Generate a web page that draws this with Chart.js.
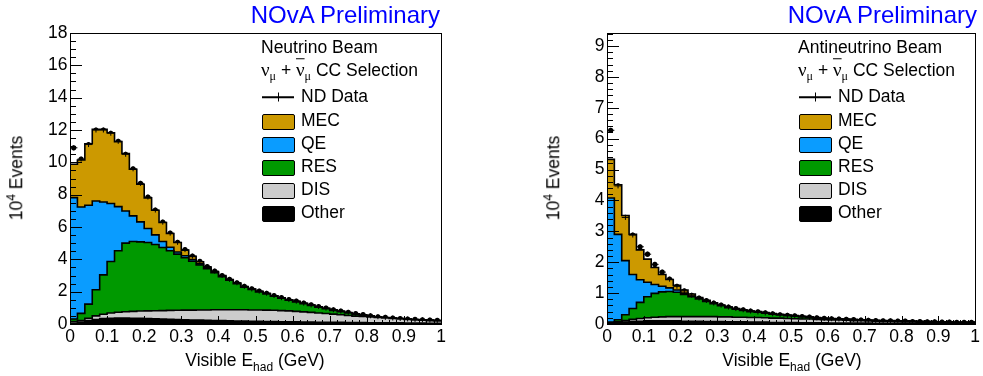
<!DOCTYPE html>
<html><head><meta charset="utf-8">
<script src="https://cdn.jsdelivr.net/npm/chart.js@4.4.0/dist/chart.umd.min.js"></script>
<style>
html,body{margin:0;padding:0;background:#fff;width:983px;height:376px;overflow:hidden;font-family:"Liberation Sans",Arial,Helvetica,sans-serif;}
#wrap{position:relative;width:983px;height:376px;}
canvas{position:absolute;top:0;}
.t{position:absolute;white-space:nowrap;color:#000;font-size:17.5px;line-height:1;transform:translateY(-50%);}
.g{font-family:"Liberation Serif","Times New Roman",serif;font-size:19px;}
.sb{font-family:"Liberation Serif","Times New Roman",serif;font-size:12px;position:relative;top:4px;}
.ov{text-decoration:overline;}
.sw{position:absolute;width:31px;height:14px;border:1px solid #000;border-radius:2px;box-sizing:content-box;}
.nova{position:absolute;white-space:nowrap;color:#0000ff;font-size:24px;line-height:1;transform:translate(-100%,-50%);}
.ytit{position:absolute;white-space:nowrap;font-size:17.5px;line-height:1;transform:translate(-50%,-50%) rotate(-90deg);}
.xtit{position:absolute;white-space:nowrap;font-size:17.5px;line-height:1;transform:translate(-50%,-50%);}
</style></head>
<body><div id="wrap">
<canvas id="c1" width="491" height="376" style="left:0px"></canvas>
<canvas id="c2" width="446" height="376" style="left:537px"></canvas>
</div>
<script>
// ---------------- data ----------------
const binWidth = 0.02;
const xTickLabels = [0, 0.1, 0.2, 0.3, 0.4, 0.5, 0.6, 0.7, 0.8, 0.9, 1];
const yTicksNu = [0, 2, 4, 6, 8, 10, 12, 14, 16, 18];
const yTicksAnu = [0, 1, 2, 3, 4, 5, 6, 7, 8, 9];
const categories = ['Other', 'DIS', 'RES', 'QE', 'MEC'];
const legendLabels = ['ND Data', 'MEC', 'QE', 'RES', 'DIS', 'Other'];

// Neutrino beam (left panel), 10^4 events per 0.02 GeV bin
const nuOther = [0.05,0.12,0.20,0.28,0.33,0.36,0.37,0.37,0.36,0.35,
  0.33,0.32,0.30,0.29,0.27,0.26,0.25,0.24,0.23,0.22,
  0.21,0.20,0.19,0.18,0.17,0.16,0.15,0.15,0.14,0.13,
  0.13,0.12,0.12,0.11,0.11,0.10,0.10,0.09,0.09,0.09,
  0.08,0.08,0.07,0.07,0.07,0.06,0.06,0.06,0.05,0.05];
const nuDIS = [0.10,0.10,0.15,0.22,0.27,0.32,0.36,0.39,0.42,0.45,
  0.48,0.50,0.53,0.55,0.58,0.60,0.61,0.63,0.64,0.66,
  0.67,0.68,0.69,0.70,0.70,0.71,0.71,0.70,0.69,0.68,
  0.65,0.63,0.60,0.57,0.54,0.51,0.47,0.44,0.40,0.37,
  0.35,0.32,0.30,0.27,0.24,0.22,0.19,0.17,0.16,0.14];
const nuRES = [0.16,0.44,0.88,1.62,2.44,3.19,3.80,4.24,4.32,4.28,
  4.23,4.10,3.90,3.69,3.47,3.24,3.02,2.78,2.55,2.30,
  2.05,1.83,1.62,1.40,1.26,1.12,1.00,0.87,0.76,0.66,
  0.59,0.50,0.42,0.36,0.29,0.23,0.19,0.15,0.11,0.08,
  0.05,0.02,0.01,0.01,0.01,0.01,0.01,0.01,0.01,0.01];
const nuQE = [7.51,6.58,6.12,5.49,4.51,3.58,2.73,1.99,1.59,1.24,
  0.87,0.59,0.37,0.22,0.13,0.12,0.10,0.07,0.05,0.03,
  0.03,0.02,0.02,0.02,0.02,0.02,0.02,0.02,0.02,0.02,
  0.02,0.02,0.02,0.02,0.02,0.02,0.02,0.02,0.02,0.02,
  0.01,0.01,0.01,0.01,0.01,0.01,0.01,0.01,0.01,0.01];
const nuMEC = [2.06,2.90,3.80,4.43,4.49,4.38,4.02,3.55,2.88,2.32,
  1.89,1.53,1.18,0.85,0.59,0.35,0.20,0.13,0.07,0.04,
  0.03,0.02,0.02,0.01,0.01,0.01,0.01,0.01,0.01,0.01,
  0.01,0.01,0.01,0.01,0.01,0.01,0.01,0.01,0.01,0.01,
  0.01,0.01,0.01,0.01,0.01,0.01,0.01,0.01,0.01,0.01];
const nuData = [10.90,10.20,11.10,12.00,12.00,11.80,11.30,10.50,9.60,8.70,
  7.85,7.05,6.30,5.62,5.05,4.60,4.20,3.87,3.55,3.27,
  3.00,2.76,2.55,2.33,2.17,2.03,1.90,1.76,1.63,1.51,
  1.41,1.29,1.18,1.08,0.98,0.88,0.80,0.72,0.64,0.58,
  0.51,0.45,0.41,0.37,0.34,0.31,0.28,0.26,0.24,0.22];

// Antineutrino beam (right panel)
const anuOther = [0.02,0.04,0.06,0.08,0.09,0.10,0.10,0.10,0.10,0.10,
  0.09,0.09,0.09,0.08,0.08,0.08,0.07,0.07,0.07,0.06,
  0.06,0.06,0.05,0.05,0.05,0.05,0.04,0.04,0.04,0.04,
  0.03,0.03,0.03,0.03,0.03,0.03,0.02,0.02,0.02,0.02,
  0.02,0.02,0.02,0.02,0.02,0.01,0.01,0.01,0.01,0.01];
const anuDIS = [0.02,0.03,0.05,0.07,0.09,0.10,0.12,0.13,0.14,0.14,
  0.15,0.15,0.15,0.16,0.16,0.15,0.16,0.15,0.15,0.15,
  0.15,0.14,0.14,0.14,0.13,0.12,0.12,0.12,0.11,0.10,
  0.10,0.10,0.09,0.08,0.08,0.07,0.07,0.065,0.06,0.055,
  0.05,0.045,0.04,0.035,0.03,0.035,0.035,0.03,0.025,0.025];
const anuRES = [0.02,0.07,0.19,0.35,0.52,0.68,0.77,0.81,0.81,0.79,
  0.72,0.64,0.57,0.49,0.42,0.36,0.30,0.26,0.22,0.19,
  0.17,0.15,0.13,0.10,0.09,0.08,0.07,0.05,0.04,0.03,
  0.03,0.02,0.02,0.02,0.01,0.01,0.01,0.01,0.01,0.01,
  0.01,0.01,0.01,0.01,0.01,0.01,0.01,0.00,0.01,0.01];
const anuQE = [4.02,2.76,1.75,1.10,0.73,0.47,0.29,0.18,0.12,0.07,
  0.04,0.02,0.02,0.02,0.01,0.01,0.01,0.01,0.01,0.01,
  0.01,0.01,0.01,0.01,0.01,0.01,0.01,0.01,0.01,0.01,
  0.01,0.01,0.01,0.01,0.01,0.01,0.01,0.01,0.01,0.01,
  0.01,0.01,0.01,0.01,0.01,0.01,0.01,0.01,0.01,0.01];
const anuMEC = [1.25,1.61,1.46,1.30,0.97,0.75,0.55,0.38,0.27,0.15,
  0.10,0.07,0.03,0.02,0.02,0.01,0.01,0.01,0.01,0.01,
  0.01,0.01,0.01,0.01,0.01,0.01,0.01,0.01,0.01,0.01,
  0.01,0.01,0.01,0.01,0.01,0.01,0.01,0.01,0.01,0.01,
  0.01,0.01,0.01,0.01,0.01,0.01,0.01,0.01,0.01,0.01];
const anuData = [6.27,4.47,3.45,2.88,2.50,2.26,1.93,1.68,1.45,1.22,
  1.07,0.93,0.84,0.76,0.68,0.61,0.55,0.50,0.46,0.42,
  0.39,0.36,0.33,0.30,0.28,0.26,0.24,0.22,0.20,0.18,
  0.17,0.16,0.15,0.14,0.13,0.12,0.11,0.10,0.10,0.09,
  0.09,0.08,0.08,0.07,0.07,0.06,0.06,0.05,0.05,0.05];

// ---------------- styles ----------------
const fillColors = {Other:'#000000', DIS:'#cccccc', RES:'#009900', QE:'#0a9cff', MEC:'#cc9900'};
const FONT = '"Liberation Sans", Arial, Helvetica, sans-serif';
Chart.defaults.font.family = FONT;

function stepPoints(vals){
  const pts = vals.map((v,i)=>({x: i*binWidth, y: v}));
  pts.push({x: vals.length*binWidth, y: vals[vals.length-1]});
  return pts;
}
function centerPoints(vals){ return vals.map((v,i)=>({x:(i+0.5)*binWidth, y:v})); }

const axisDeco = {
  id:'axisDeco',
  afterDatasetsDraw(chart, args, o){
    const {ctx, chartArea:a} = chart;
    const xs = chart.scales.x, ys = chart.scales.y;
    ctx.save();
    ctx.strokeStyle = '#000'; ctx.lineWidth = 1;
    // horizontal data error bars
    const meta = chart.getDatasetMeta(5);
    const hw = xs.getPixelForValue(binWidth/2) - xs.getPixelForValue(0);
    ctx.beginPath();
    meta.data.forEach(p=>{ ctx.moveTo(p.x-hw, p.y); ctx.lineTo(p.x+hw, p.y); ctx.moveTo(p.x, p.y-2.5); ctx.lineTo(p.x, p.y+2.5); });
    ctx.stroke();
    // inward ticks
    ctx.beginPath();
    for (let k=0;;k++){
      const v = k*o.yMinor; if (v > ys.max + 1e-9) break;
      const major = Math.abs(v/o.yMajor - Math.round(v/o.yMajor)) < 1e-6;
      const p = Math.round(ys.getPixelForValue(v))+0.5;
      ctx.moveTo(a.left, p); ctx.lineTo(a.left + (major?12:6), p);
    }
    for (let k=0;;k++){
      const v = k*o.xMinor; if (v > 1+1e-9) break;
      const major = Math.abs(v/o.xMajor - Math.round(v/o.xMajor)) < 1e-6;
      const p = Math.round(xs.getPixelForValue(v))+0.5;
      ctx.moveTo(p, a.bottom); ctx.lineTo(p, a.bottom - (major?8:4));
    }
    ctx.stroke();
    ctx.strokeRect(Math.round(a.left)+0.5, Math.round(a.top)+0.5, Math.round(a.right-a.left), Math.round(a.bottom-a.top));
    ctx.restore();
  }
};

function makeChart(canvasId, comps, data, yMax, yTicks, yMajor, yMinor, rightPad){
  const datasets = categories.map((name,i)=>({
    label: name,
    data: stepPoints(comps[i]),
    stepped: true,
    backgroundColor: fillColors[name],
    borderColor: '#000',
    borderWidth: 1.6,
    pointRadius: 0,
    fill: i===0 ? 'origin' : '-1',
    stack: 'mc'
  }));
  datasets.push({
    label: 'ND Data', data: centerPoints(data), showLine:false, stack:'data', fill:false,
    pointRadius: 2.6, pointBackgroundColor:'#000', pointBorderColor:'#000', borderColor:'#000', pointBorderWidth:0
  });
  return new Chart(document.getElementById(canvasId), {
    type:'line',
    data:{datasets},
    plugins:[axisDeco],
    options:{
      responsive:false, animation:false, events:[],
      layout:{padding:{top:33, right:rightPad, left:0, bottom:0}},
      plugins:{legend:{display:false}, tooltip:{enabled:false},
        axisDeco:{yMajor, yMinor, xMajor:0.1, xMinor:0.02}},
      scales:{
        x:{type:'linear', min:0, max:1,
          grid:{display:false, drawTicks:false}, border:{display:false},
          ticks:{autoSkip:false, maxRotation:0, padding:3, color:'#000', font:{size:17.5}, callback:v=>String(v)},
          afterBuildTicks:s=>{ s.ticks = xTickLabels.map(v=>({value:v})); },
          afterFit:s=>{ s.height = 52; }},
        y:{type:'linear', stacked:true, min:0, max:yMax,
          grid:{display:false, drawTicks:false}, border:{display:false},
          ticks:{autoSkip:false, padding:2.5, color:'#000', font:{size:17.5}, callback:v=>String(v)},
          afterBuildTicks:s=>{ s.ticks = yTicks.map(v=>({value:v})); },
          afterFit:s=>{ s.width = 70; }}
      }
    }
  });
}

makeChart('c1', [nuOther, nuDIS, nuRES, nuQE, nuMEC], nuData, 18, yTicksNu, 2, 0.5, 50);
makeChart('c2', [anuOther, anuDIS, anuRES, anuQE, anuMEC], anuData, 9.42, yTicksAnu, 1, 0.2, 6);

// ---------------- text overlays ----------------
const wrap = document.getElementById('wrap');
function add(html, cls, left, top, extra){
  const d = document.createElement('div');
  d.className = cls; d.innerHTML = html;
  d.style.left = left+'px'; d.style.top = top+'px';
  if (extra) Object.assign(d.style, extra);
  wrap.appendChild(d); return d;
}
const beams = ['Neutrino Beam', 'Antineutrino Beam'];
[0, 537].forEach((ox, k)=>{
  add('NOvA Preliminary', 'nova', 440+ox, 15);
  add('10<span style="font-size:12px;position:relative;top:-7px">4</span> Events', 'ytit', 17+ox, 178);
  add('Visible E<span style="font-size:12px;position:relative;top:5px">had</span> (GeV)', 'xtit', 255+ox, 361);
  add(beams[k], 't', 261+ox, 48);
  add('<span class="g">ν</span><span class="sb">μ</span> + <span class="g ov">ν</span><span class="sb">μ</span> CC Selection', 't', 261+ox, 70);
  const rowsY = [97, 121, 144, 167, 190, 213];
  legendLabels.forEach((lab, i)=>{
    const cy = rowsY[i];
    if (i===0){
      add('', 'sw', 262+ox, cy, {border:'none', width:'32px', height:'1.5px', background:'#000', borderRadius:'0', transform:'translateY(-50%)'});
      add('', 'sw', 277.5+ox, cy, {border:'none', width:'1.5px', height:'9px', background:'#000', borderRadius:'0', transform:'translateY(-50%)'});
    } else {
      add('', 'sw', 262+ox, cy-7.5, {background: fillColors[lab]});
    }
    add(lab, 't', 301+ox, cy);
  });
});
</script>
</body></html>
